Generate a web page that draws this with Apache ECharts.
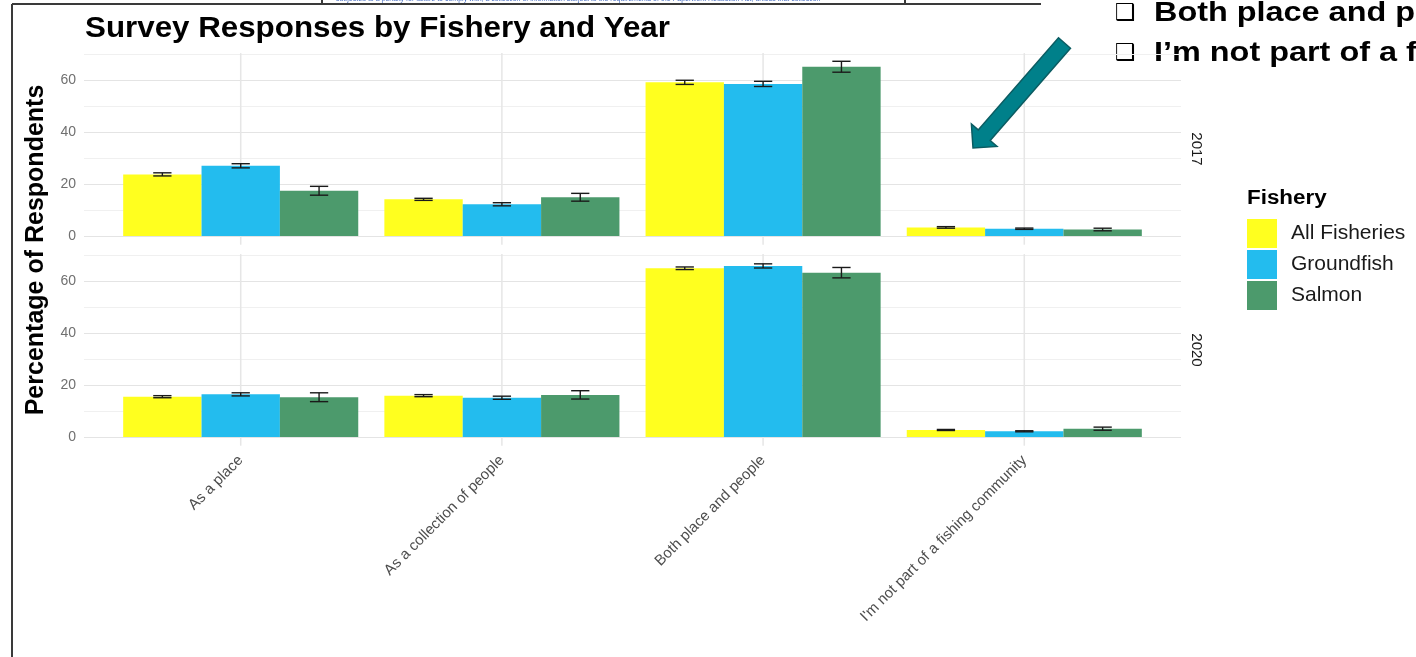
<!DOCTYPE html>
<html>
<head>
<meta charset="utf-8">
<script src="https://cdn.jsdelivr.net/npm/echarts@6/dist/echarts.min.js"></script>
<style>
html,body{margin:0;padding:0;background:#fff;}
#chart{width:1416px;height:657px;}
</style>
</head>
<body>
<div id="chart"></div>
<script>
// ---- data ----
const categories = ['As a place', 'As a collection of people', 'Both place and people', "I'm not part of a fishing community"];
const fisheries = ['All Fisheries', 'Groundfish', 'Salmon'];
const years = ['2017', '2020'];

const pct2017All = [23.7, 14.1, 59.1, 3.3];
const pct2017Groundfish = [27.0, 12.2, 58.5, 2.8];
const pct2017Salmon = [17.4, 14.9, 65.1, 2.5];
const err2017All = [0.6, 0.4, 0.8, 0.3];
const err2017Groundfish = [0.8, 0.6, 1.0, 0.25];
const err2017Salmon = [1.7, 1.5, 2.1, 0.5];

const pct2020All = [15.5, 15.9, 64.9, 2.7];
const pct2020Groundfish = [16.4, 15.1, 65.8, 2.2];
const pct2020Salmon = [15.3, 16.2, 63.2, 3.2];
const err2020All = [0.4, 0.4, 0.5, 0.2];
const err2020Groundfish = [0.6, 0.6, 0.8, 0.2];
const err2020Salmon = [1.7, 1.6, 2.0, 0.6];

const yTicks = [0, 20, 40, 60];

// ---- build ----
const colors = ['#FFFF1F', '#23BCEE', '#4C9A6C'];
const panels = [
  [[pct2017All, err2017All], [pct2017Groundfish, err2017Groundfish], [pct2017Salmon, err2017Salmon]],
  [[pct2020All, err2020All], [pct2020Groundfish, err2020Groundfish], [pct2020Salmon, err2020Salmon]]
];
const FONT = '"Liberation Sans", Arial, "DejaVu Sans", sans-serif';

function barRender(fIdx) {
  return function (params, api) {
    const x = api.value(0), y = api.value(1), e = api.value(2);
    const cx = x + (fIdx - 1) * 0.3;
    const p1 = api.coord([cx - 0.15, y]);
    const p2 = api.coord([cx + 0.15, 0]);
    const t = api.coord([cx, y + e]);
    const b = api.coord([cx, y - e]);
    const l = api.coord([cx - 0.035, y]);
    const r = api.coord([cx + 0.035, y]);
    const ls = { stroke: '#1a1a1a', lineWidth: 1.4 };
    return {
      type: 'group',
      children: [
        { type: 'rect', shape: { x: p1[0], y: p1[1], width: p2[0] - p1[0], height: p2[1] - p1[1] }, style: { fill: api.visual('color') } },
        { type: 'line', shape: { x1: t[0], y1: t[1], x2: b[0], y2: b[1] }, style: ls },
        { type: 'line', shape: { x1: l[0], y1: t[1], x2: r[0], y2: t[1] }, style: ls },
        { type: 'line', shape: { x1: l[0], y1: b[1], x2: r[0], y2: b[1] }, style: ls }
      ]
    };
  };
}
function vGridRender(params, api) {
  const x = api.value(0);
  const a = api.coord([x, -3.35]);
  const b = api.coord([x, 70.35]);
  return { type: 'line', shape: { x1: a[0], y1: a[1], x2: b[0], y2: b[1] }, style: { stroke: '#e6e6e6', lineWidth: 1.5 } };
}

const grids = [
  { left: 84, top: 54, width: 1097, height: 182 },
  { left: 84, top: 255, width: 1097, height: 182 }
];
const xAxes = [0, 1].map(i => ({
  type: 'value', gridIndex: i, min: 0.4, max: 4.6,
  axisLine: { show: false }, axisTick: { show: false }, splitLine: { show: false },
  axisLabel: i === 1 ? {
    show: true, customValues: [1, 2, 3, 4], rotate: 45, fontSize: 15, color: '#4d4d4d', fontFamily: FONT, margin: 21,
    formatter: v => categories[Math.round(v) - 1] || ''
  } : { show: false }
}));
const yAxes = [0, 1].map(i => ({
  type: 'value', gridIndex: i, min: 0, max: 70, interval: 10,
  axisLine: { show: false }, axisTick: { show: false },
  axisLabel: { fontSize: 14, color: '#707070', fontFamily: FONT, margin: 8, formatter: v => (yTicks.indexOf(v) >= 0 ? String(v) : '') },
  splitLine: { show: true, lineStyle: { color: ['#e4e4e4', '#f0f0f0'], width: 1.2 } }
}));

const series = [];
[0, 1].forEach(p => {
  series.push({
    type: 'custom', xAxisIndex: p, yAxisIndex: p, z: 1, silent: true,
    renderItem: vGridRender, data: categories.map((c, i) => [i + 1, 0])
  });
});
[0, 1].forEach(p => {
  fisheries.forEach((f, fi) => {
    const [vals, errs] = panels[p][fi];
    series.push({
      name: f, type: 'custom', xAxisIndex: p, yAxisIndex: p, z: 2,
      itemStyle: { color: colors[fi] },
      renderItem: barRender(fi),
      data: categories.map((c, i) => [i + 1, vals[i], errs[i]])
    });
  });
});

// arrow outline (slide decoration)
const arrow = [[1070.5, 48.3], [990.2, 140.5], [997.0, 146.4], [973, 148], [971.4, 124.0], [978.2, 129.9], [1058.5, 37.7]];

const option = {
  animation: false,
  backgroundColor: '#ffffff',
  grid: grids,
  xAxis: xAxes,
  yAxis: yAxes,
  legend: {
    data: fisheries, orient: 'vertical', left: 1247, top: 219, padding: 0,
    itemWidth: 30, itemHeight: 29, itemGap: 2, icon: 'rect',
    textStyle: { fontSize: 21, color: '#1a1a1a', fontFamily: FONT, padding: [0, 0, 0, 9] }
  },
  series: series,
  graphic: [
    // slide frame
    { type: 'line', shape: { x1: 12, y1: 4, x2: 1041, y2: 4 }, style: { stroke: '#3a3a3a', lineWidth: 2 }, z: 10 },
    { type: 'line', shape: { x1: 12, y1: 4, x2: 12, y2: 657 }, style: { stroke: '#3a3a3a', lineWidth: 2 }, z: 10 },
    { type: 'line', shape: { x1: 322, y1: 0, x2: 322, y2: 4 }, style: { stroke: '#3a3a3a', lineWidth: 2 }, z: 10 },
    { type: 'line', shape: { x1: 905, y1: 0, x2: 905, y2: 4 }, style: { stroke: '#3a3a3a', lineWidth: 2 }, z: 10 },
    { type: 'text', x: 336, y: 3, z: 10, style: { text: 'subjected to a penalty for failure to comply with, a collection of information subject to the requirements of the Paperwork Reduction Act, unless that collection', font: '7px ' + FONT, fill: '#4a6fc1', verticalAlign: 'bottom' } },
    // title
    { type: 'text', x: 85, y: 29, scaleX: 1.08, style: { text: 'Survey Responses by Fishery and Year', font: 'bold 29px ' + FONT, fill: '#000', verticalAlign: 'middle' } },
    // y axis title
    { type: 'text', x: 36, y: 250, rotation: Math.PI / 2, style: { text: 'Percentage of Respondents', font: 'bold 25px ' + FONT, fill: '#000', align: 'center', verticalAlign: 'middle' } },
    // strip labels
    { type: 'text', x: 1196, y: 149, rotation: -Math.PI / 2, style: { text: years[0], font: '15px ' + FONT, fill: '#1a1a1a', align: 'center', verticalAlign: 'middle' } },
    { type: 'text', x: 1196, y: 350, rotation: -Math.PI / 2, style: { text: years[1], font: '15px ' + FONT, fill: '#1a1a1a', align: 'center', verticalAlign: 'middle' } },
    // legend title
    { type: 'text', x: 1247, y: 198, scaleX: 1.12, style: { text: 'Fishery', font: 'bold 20px ' + FONT, fill: '#000', verticalAlign: 'middle' } },
    // slide bullets top right
    { type: 'text', x: 1115, y: 14, style: { text: '\u2751', font: 'bold 23px "DejaVu Sans", sans-serif', fill: '#000', verticalAlign: 'middle' } },
    { type: 'text', x: 1154, y: 14, scaleX: 1.2, style: { text: 'Both place and people', font: 'bold 27px ' + FONT, fill: '#000', verticalAlign: 'middle' } },
    { type: 'text', x: 1115, y: 54, style: { text: '\u2751', font: 'bold 23px "DejaVu Sans", sans-serif', fill: '#000', verticalAlign: 'middle' } },
    { type: 'text', x: 1154, y: 54, scaleX: 1.2, style: { text: 'I\u2019m not part of a fishing community', font: 'bold 27px ' + FONT, fill: '#000', verticalAlign: 'middle' } },
    // arrow
    { type: 'polygon', shape: { points: arrow }, style: { fill: '#00808a', stroke: '#0b5c62', lineWidth: 1.5 }, z: 10 }
  ]
};

const chart = echarts.init(document.getElementById('chart'), null, { renderer: 'canvas' });
chart.setOption(option);
</script>
</body>
</html>
